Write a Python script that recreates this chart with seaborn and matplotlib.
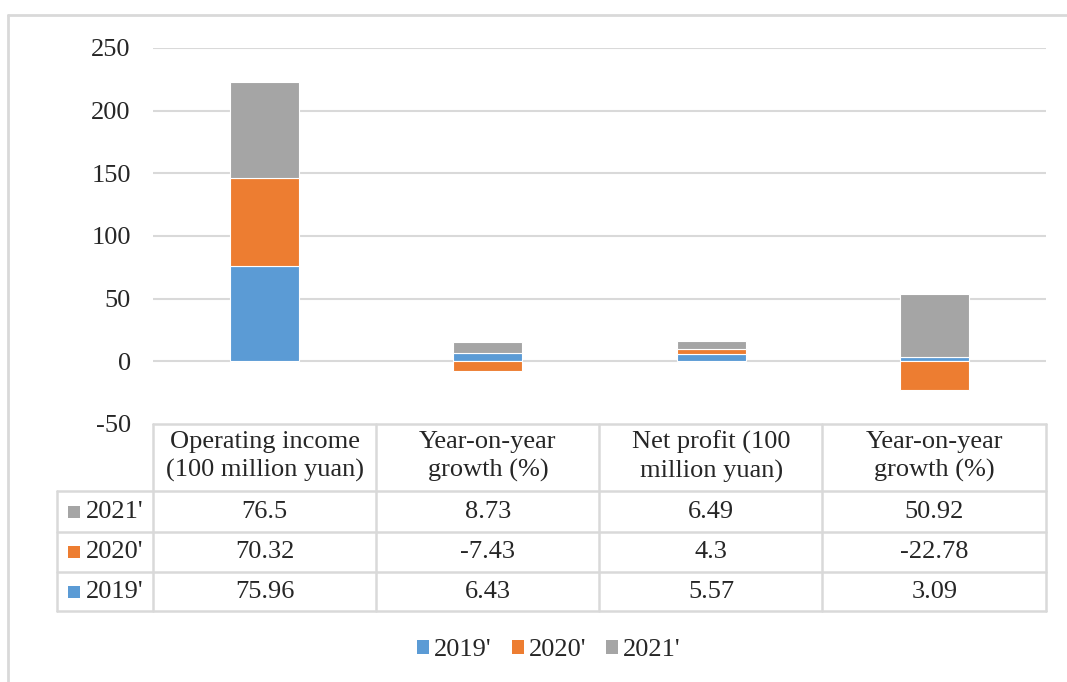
import numpy as np
import pandas as pd
import matplotlib
matplotlib.use("Agg")
import matplotlib.pyplot as plt
import matplotlib.transforms as mtransforms
from matplotlib.patches import Patch, Rectangle
from matplotlib.lines import Line2D
import seaborn as sns

# ---- data ----
categories = ["Operating income\n(100 million yuan)", "Year-on-year\ngrowth (%)",
              "Net profit (100\nmillion yuan)", "Year-on-year\ngrowth (%)"]
series_names = ["2019'", "2020'", "2021'"]
values_2019 = [75.96, 6.43, 5.57, 3.09]
values_2020 = [70.32, -7.43, 4.3, -22.78]
values_2021 = [76.5, 8.73, 6.49, 50.92]
value_labels_2019 = ["75.96", "6.43", "5.57", "3.09"]
value_labels_2020 = ["70.32", "-7.43", "4.3", "-22.78"]
value_labels_2021 = ["76.5", "8.73", "6.49", "50.92"]
yticks = [-50, 0, 50, 100, 150, 200, 250]

colors = {"2019'": "#5B9BD5", "2020'": "#ED7D31", "2021'": "#A5A5A5"}
series = {"2019'": values_2019, "2020'": values_2020, "2021'": values_2021}
labels = {"2019'": value_labels_2019, "2020'": value_labels_2020, "2021'": value_labels_2021}

sns.set_theme(style="white")
plt.rcParams["font.family"] = ["Liberation Serif", "DejaVu Serif"]

FS = 19
W, H = 1067, 682
fig = plt.figure(figsize=(W / 100, H / 100), dpi=100)
fig.patch.set_facecolor("white")

def fx(x):
    return x / W

def fy(y):
    return 1 - y / H

ax_left, ax_right, ax_top, ax_bot = 153, 1046, 48, 424
ax = fig.add_axes([fx(ax_left), fy(ax_bot), fx(ax_right - ax_left), (ax_bot - ax_top) / H])
ax.set_facecolor("white")

# unique keys for categorical axis
keys = [f"c{i}" for i in range(len(categories))]
pos_base = np.zeros(len(keys))
neg_base = np.zeros(len(keys))
for name in series_names:
    vals = np.array(series[name], dtype=float)
    bottoms = np.where(vals >= 0, pos_base, neg_base)
    df = pd.DataFrame({"cat": keys, "val": vals})
    sns.barplot(data=df, x="cat", y="val", order=keys, color=colors[name],
                width=0.31, bottom=bottoms, edgecolor="white", linewidth=0.8,
                errorbar=None, saturation=1, ax=ax, zorder=3)
    pos_base = pos_base + np.where(vals >= 0, vals, 0)
    neg_base = neg_base + np.where(vals < 0, vals, 0)

ax.set_xlim(-0.5, len(keys) - 0.5)
ax.set_ylim(-50, 250)
ax.set_yticks(yticks)
ax.set_yticklabels([str(t) for t in yticks], fontsize=FS, color="#262626")
ax.tick_params(axis="y", length=0, pad=16)
ax.tick_params(axis="x", length=0, labelbottom=False)
ax.set_xlabel("")
ax.set_ylabel("")
for s in ax.spines.values():
    s.set_visible(False)
for t in yticks:
    if t > -50:
        ax.axhline(t, color="#D9D9D9", lw=1.5, zorder=1)

# ---- data table ----
line_c = "#D9D9D9"
text_c = "#262626"
trans = mtransforms.blended_transform_factory(ax.transData, fig.transFigure)
rows_y = [424, 491, 532, 572, 611]
tbl_left = 57
col_edges_px = [153, 376, 599, 822, 1046]

def hline(y, x0, x1):
    fig.add_artist(Line2D([fx(x0), fx(x1)], [fy(y), fy(y)], color=line_c, lw=1.8,
                          transform=fig.transFigure))

def vline(x, y0, y1):
    fig.add_artist(Line2D([fx(x), fx(x)], [fy(y0), fy(y1)], color=line_c, lw=1.8,
                          transform=fig.transFigure))

hline(rows_y[0], col_edges_px[0], col_edges_px[-1])
for y in rows_y[1:]:
    hline(y, tbl_left, col_edges_px[-1])
for x in col_edges_px:
    vline(x, rows_y[0], rows_y[-1])
vline(tbl_left, rows_y[1], rows_y[-1])

# header
for i, cat in enumerate(categories):
    fig.text(i, fy((rows_y[0] + rows_y[1]) / 2 - 1), cat, transform=trans, ha="center",
             va="center", fontsize=FS, color=text_c, linespacing=1.35)

table_order = ["2021'", "2020'", "2019'"]
for r, name in enumerate(table_order):
    yc = (rows_y[r + 1] + rows_y[r + 2]) / 2
    fig.add_artist(Rectangle((fx(68), fy(yc + 6)), fx(12), 12 / H, facecolor=colors[name],
                             edgecolor="none", transform=fig.transFigure))
    fig.text(fx(86), fy(yc), name, ha="left", va="center", fontsize=FS, color=text_c)
    for i, lab in enumerate(labels[name]):
        fig.text(i, fy(yc), lab, transform=trans, ha="center", va="center",
                 fontsize=FS, color=text_c)

# ---- legend ----
handles = [Patch(facecolor=colors[n], edgecolor="none", label=n) for n in series_names]
fig.legend(handles=handles, loc="center", bbox_to_anchor=(fx(549), fy(650)), ncol=3,
           frameon=False, fontsize=FS, handlelength=0.45, handleheight=0.45,
           handletextpad=0.2, columnspacing=0.75, labelcolor=text_c)

# ---- outer border (top and left visible) ----
fig.add_artist(Line2D([fx(8), fx(1070)], [fy(15), fy(15)], color=line_c, lw=2,
                      transform=fig.transFigure))
fig.add_artist(Line2D([fx(8), fx(8)], [fy(15), fy(690)], color=line_c, lw=2,
                      transform=fig.transFigure))

fig.savefig("out.png", dpi=100, facecolor="white")
